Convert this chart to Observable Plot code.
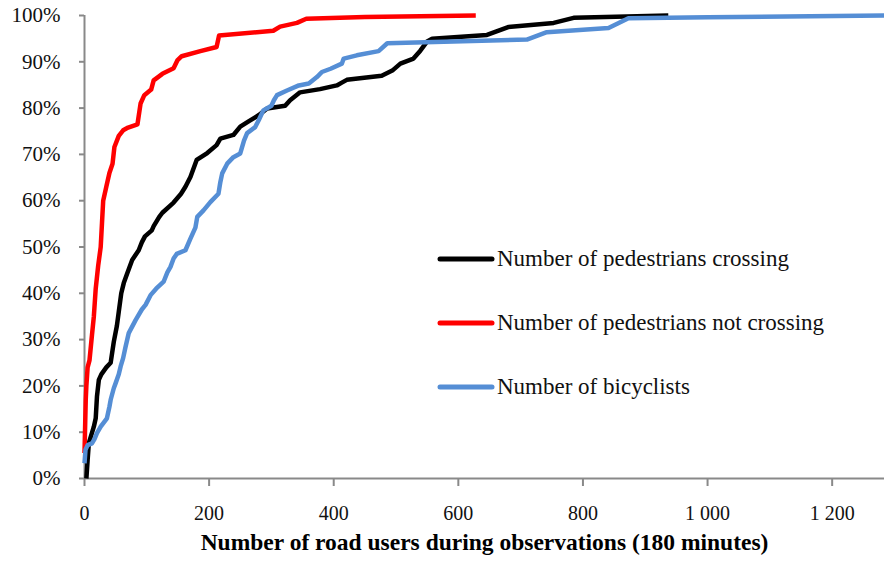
<!DOCTYPE html>
<html>
<head>
<meta charset="utf-8">
<script src="https://cdn.jsdelivr.net/npm/d3@7"></script>
<script src="https://cdn.jsdelivr.net/npm/@observablehq/plot@0.6"></script>
<style>
  html, body { margin: 0; padding: 0; background: #fff; }
</style>
</head>
<body>
<div id="chart"></div>
<script>
// ---- data (x = number of road users, y = cumulative share in %) ----
const seriesNames = ["Number of pedestrians crossing", "Number of pedestrians not crossing", "Number of bicyclists"];
const seriesColors = ["#000000", "#FF0000", "#558ED5"];

const crossingX = [3,5,7,10,15,18,20,23,27,35,42,47,52,55,59,63,68.5,76.5,87,92,97,108,111,120,125,143,155,162,170,180,197,212,218,239,250,264,280,293,322,330,346,378,405,413,421,477,494,507,528,539,550,558,646,680,753,785,937];
const crossingY = [0,4,7.7,9,11.2,13,17.7,21.3,22.5,24,25,29.5,33,36,40,42.2,44.3,47.2,49.3,51,52.3,53.6,54.5,56.5,57.4,59.6,61.5,63,65.1,68.8,70.3,72,73.4,74.2,76,77.2,78.5,79.9,80.5,81.7,83.4,84.1,84.9,85.5,86.1,87,88.1,89.6,90.7,92.4,94.4,95,95.8,97.5,98.4,99.5,100];

const notCrossingX = [0,2,3,5,8,12,15,18,22,26,28,30,35,40,45,48,55,62,70,85,90,96,107,111,125,143,149,156,186,212,216,303,314,341,356,450,628];
const notCrossingY = [5.5,17,20,24,25.5,31,35,41,46,50,55,60,63,66,68,71.6,74,75.2,75.8,76.5,81,82.8,84,86,87.4,88.6,90.3,91.2,92.3,93.2,95.7,96.7,97.6,98.4,99.3,99.7,100];

const bicyclistsX = [0,1.6,5,12,16,20,26,36,40,42,47,50,55,58,62,66,71,82,92,98,106,115,127,133,138,143,148,162,170,178,181,191,202,215,218,221,229,239,250,256,261,274,280,287,300,304,309,325,344,360,373,381,395,413,416,437,472,486,710,742,841,873,1000,1284];
const bicyclistsY = [3.3,6.2,7.2,7.6,8.5,9.8,11.2,13,15.5,17,19.5,20.6,22.5,24.2,26,28.5,31.4,34.2,36.5,37.5,39.6,41,42.5,44.5,45.7,47.5,48.5,49.3,51.8,54.2,56.5,57.9,59.7,61.5,64,65.9,68,69.4,70.2,73,74.6,75.9,77.5,79.5,80.5,81.7,82.8,83.8,84.9,85.3,86.7,87.8,88.5,89.6,90.7,91.4,92.3,94,94.8,96.4,97.3,99.4,99.6,100];

const xTicks = [0,200,400,600,800,1000,1200];
const xTickLabels = ["0","200","400","600","800","1 000","1 200"];
const yTicks = [0,10,20,30,40,50,60,70,80,90,100];
const xTitle = "Number of road users during observations (180 minutes)";

// ---- build table ----
const seriesX = [crossingX, notCrossingX, bicyclistsX];
const seriesY = [crossingY, notCrossingY, bicyclistsY];
const rows = [];
seriesNames.forEach((name, i) => {
  seriesX[i].forEach((x, j) => rows.push({series: name, x, y: seriesY[i][j]}));
});

const axisGray = "#898989";
const serif = "'Liberation Serif', 'DejaVu Serif', serif";

const plot = Plot.plot({
  width: 884,
  height: 566,
  marginLeft: 84,
  marginRight: 0,
  marginTop: 15,
  marginBottom: 88,
  style: {fontFamily: serif, background: "#fff"},
  x: {domain: [0, 1284], axis: null},
  y: {domain: [0, 100], axis: null},
  color: {domain: seriesNames, range: seriesColors},
  marks: [
    Plot.axisY({ticks: yTicks, tickFormat: d => d + "%", tickSize: 5, tickPadding: 19, fontSize: 21, stroke: axisGray, strokeWidth: 2, fill: "#111", label: null}),
    Plot.axisX({ticks: xTicks, tickFormat: d => xTickLabels[xTicks.indexOf(d)], tickSize: 8, tickPadding: 19, fontSize: 20, stroke: axisGray, strokeWidth: 2, fill: "#111", label: null}),
    Plot.ruleX([0], {stroke: axisGray, strokeWidth: 2}),
    Plot.ruleY([0], {stroke: axisGray, strokeWidth: 2}),
    Plot.line(rows, {x: "x", y: "y", z: "series", stroke: "series", strokeWidth: 4.5, strokeLinejoin: "round", strokeLinecap: "butt"}),
    Plot.text([xTitle], {frameAnchor: "bottom", dy: 71, fontSize: 23.5, fontWeight: "bold", fill: "#000"})
  ]
});

document.getElementById("chart").appendChild(plot);

// ---- legend inside the plot area ----
const svg = d3.select(plot);
const legendRows = [259, 323, 387];
const lg = svg.append("g").attr("text-anchor", "start").style("font-family", serif);
seriesNames.forEach((name, i) => {
  lg.append("line")
    .attr("x1", 440).attr("x2", 492)
    .attr("y1", legendRows[i]).attr("y2", legendRows[i])
    .attr("stroke", seriesColors[i]).attr("stroke-width", 5).attr("stroke-linecap", "round");
  lg.append("text")
    .attr("x", 497).attr("y", legendRows[i])
    .attr("dy", "0.32em")
    .attr("text-anchor", "start")
    .attr("font-size", 23)
    .attr("fill", "#111")
    .text(name);
});
</script>
</body>
</html>
